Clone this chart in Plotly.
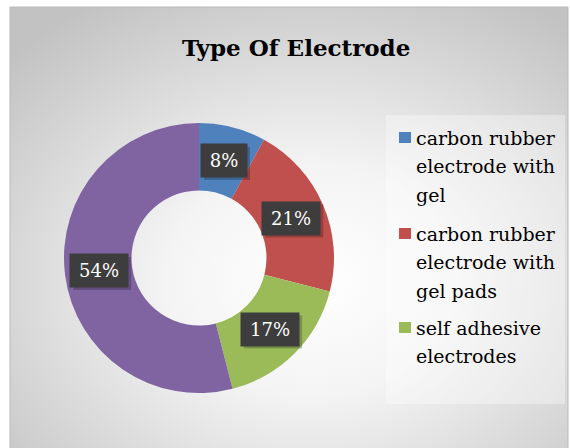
import base64
import math
import plotly.graph_objects as go

# ---- data ----
categories = [
    "carbon rubber<br>electrode with<br>gel",
    "carbon rubber<br>electrode with<br>gel pads",
    "self adhesive<br>electrodes",
    "others",
]
shares = [8, 21, 17, 54]
slice_colors = ["#4F81BD", "#C0504D", "#9BBB59", "#8064A2"]
legend_count = 3  # entries that fit inside the legend panel
title_text = "Type Of Electrode"

W, H = 570, 448
SERIF = "DejaVu Serif"


def px(x):
    return x / W


def py(y):
    return 1 - y / H


# donut placement (pixels)
cx, cy, R = 199, 258, 135
dom_x = [px(cx - R), px(cx + R)]
dom_y = [py(cy + R), py(cy - R)]
unit = 2 / (2 * R)  # axis units per pixel

fig = go.Figure()
fig.add_trace(go.Pie(
    labels=categories,
    values=shares,
    sort=False,
    direction="clockwise",
    rotation=0,
    hole=0.5,
    marker=dict(colors=slice_colors, line=dict(width=0)),
    textinfo="none",
    hoverinfo="label+percent",
    showlegend=False,
    domain=dict(x=dom_x, y=dom_y),
))

# background: radial grey gradient
svg = (
    "<svg xmlns='http://www.w3.org/2000/svg' width='558' height='441'>"
    "<defs><radialGradient id='g' cx='0.54' cy='0.62' r='0.74'>"
    "<stop offset='0' stop-color='#ffffff'/>"
    "<stop offset='0.35' stop-color='#f4f4f4'/>"
    "<stop offset='1' stop-color='#c2c2c2'/>"
    "</radialGradient></defs>"
    "<rect width='558' height='441' fill='url(#g)'/></svg>"
)
bg_src = "data:image/svg+xml;base64," + base64.b64encode(svg.encode()).decode()

annotations = []
shapes = []

# percentage labels placed at slice mid-angles
total = sum(shares)
cum = 0
r_lab = 0.745
for v in shares:
    mid = (cum + v / 2) / total * 2 * math.pi
    cum += v
    lx, ly = r_lab * math.sin(mid), r_lab * math.cos(mid)
    txt = f"{round(v / total * 100)}%"
    wbox = 12 * len(txt) + 16
    bw, bh = wbox + 6, 33
    # soft drop shadow behind the label box
    shapes.append(dict(
        type="rect", xref="x", yref="y",
        x0=lx + (-bw / 2 + 3) * unit, x1=lx + (bw / 2 + 3) * unit,
        y0=ly + (-bh / 2 - 3) * unit, y1=ly + (bh / 2 - 3) * unit,
        fillcolor="rgba(0,0,0,0.22)", line=dict(width=0), layer="above",
    ))
    annotations.append(dict(
        x=lx, y=ly, xref="x", yref="y",
        text=txt, showarrow=False,
        font=dict(family=SERIF, size=18, color="white"),
        bgcolor="#3d3d3d", borderpad=3, width=wbox, height=27,
    ))

# title
annotations.append(dict(
    x=px(296), y=py(48), xref="paper", yref="paper",
    text=f"<b>{title_text}</b>", showarrow=False,
    font=dict(family=SERIF, size=23, color="black"),
    xanchor="center", yanchor="middle",
))

# legend panel
shapes.append(dict(
    type="rect", xref="paper", yref="paper",
    x0=px(386), x1=px(565), y0=py(404), y1=py(115),
    fillcolor="rgba(255,255,255,0.35)", line=dict(width=0), layer="below",
))

# legend entries
first_baselines = [144, 240, 334]
step = 28.3
fs = 19
for i in range(legend_count):
    base = first_baselines[i]
    shapes.append(dict(
        type="rect", xref="paper", yref="paper",
        x0=px(399), x1=px(411), y0=py(base - 1), y1=py(base - 12),
        fillcolor=slice_colors[i], line=dict(width=0),
    ))
    for j, line in enumerate(categories[i].split("<br>")):
        b = base + j * step
        annotations.append(dict(
            x=px(414), y=py(b - 6), xref="paper", yref="paper",
            text=line, showarrow=False, xanchor="left", yanchor="middle",
            font=dict(family=SERIF, size=fs, color="black"),
        ))

# chart frame
shapes.append(dict(
    type="rect", xref="paper", yref="paper",
    x0=px(10), x1=px(568), y0=py(449), y1=py(7),
    line=dict(color="#b9b9b9", width=1), fillcolor="rgba(0,0,0,0)",
))

fig.update_layout(
    width=W, height=H,
    margin=dict(l=0, r=0, t=0, b=0),
    paper_bgcolor="white",
    plot_bgcolor="rgba(0,0,0,0)",
    xaxis=dict(domain=dom_x, range=[-1, 1], visible=False, fixedrange=True),
    yaxis=dict(domain=dom_y, range=[-1, 1], visible=False, fixedrange=True),
    images=[dict(
        source=bg_src, xref="paper", yref="paper",
        x=px(10), y=py(7), sizex=558 / W, sizey=441 / H,
        xanchor="left", yanchor="top", sizing="stretch", layer="below",
    )],
    annotations=annotations,
    shapes=shapes,
    showlegend=False,
)

fig.write_html("out.html")
